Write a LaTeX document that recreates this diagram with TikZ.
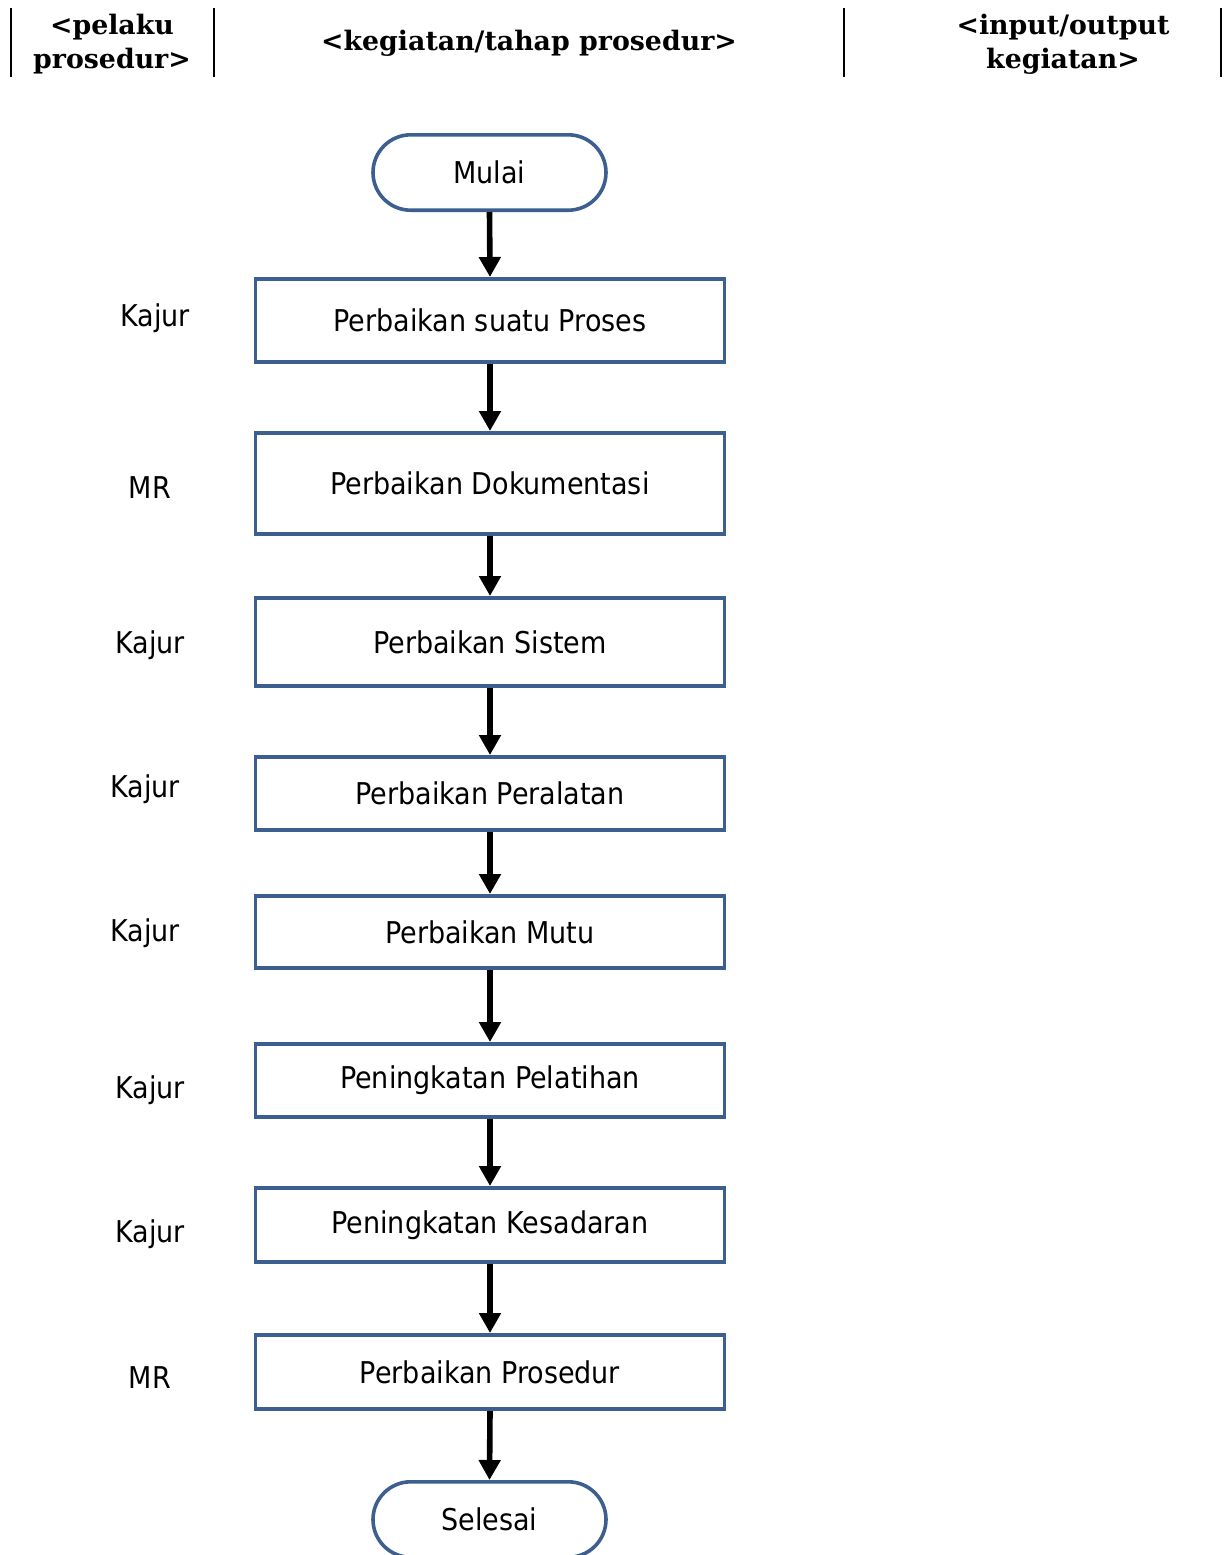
\documentclass[tikz,border=0pt]{standalone}
\usepackage{fontspec}
\setmainfont{DejaVu Sans Condensed}
\newfontfamily\headfont{DejaVu Serif}
\usetikzlibrary{arrows.meta,shapes.misc}
\definecolor{boxblue}{HTML}{3D5F8F}
\tikzset{
  procbox/.style={draw=boxblue, line width=1.8pt, fill=white, minimum width=234.5pt, font=\fontsize{15}{17}\selectfont, inner sep=0pt},
  termbox/.style={draw=boxblue, line width=1.8pt, fill=white, rounded rectangle, minimum width=116.5pt, minimum height=37.7pt, font=\fontsize{15}{17}\selectfont, inner sep=0pt},
  actor/.style={font=\fontsize{15}{17}\selectfont, inner sep=0pt},
  headtext/.style={font=\headfont\bfseries\fontsize{13.4}{17}\selectfont, align=center, inner sep=0pt},
  colline/.style={line width=1pt},
  flow/.style={line width=2.8pt, -{Triangle[length=10pt,width=10.5pt]}}
}
\begin{document}
\begin{tikzpicture}[x=0.5pt,y=-0.5pt]
  \useasboundingbox (0,0) rectangle (1225,1555);
  \clip (0,0) rectangle (1225,1555);
  % column header separators
  \foreach \xx in {11,214,844,1221}
    \draw[colline] (\xx,8) -- (\xx,77);
  \node[headtext] (h1) at (112,44) {<pelaku\\prosedur>};
  \node[headtext] (h2) at (529,43) {<kegiatan/tahap prosedur>};
  \node[headtext] (h3) at (1063,44) {<input/output\\kegiatan>};
  % flow
  \node[termbox] (start) at (489.5,172.5) {Mulai};
  \node[procbox, minimum height=41.7pt] (p1) at (490,320.5) {Perbaikan suatu Proses};
  \node[procbox, minimum height=50.7pt] (p2) at (490,483.5) {Perbaikan Dokumentasi};
  \node[procbox, minimum height=44.2pt] (p3) at (490,642) {Perbaikan Sistem};
  \node[procbox, minimum height=36.7pt] (p4) at (490,793.5) {Perbaikan Peralatan};
  \node[procbox, minimum height=36.2pt] (p5) at (490,932) {Perbaikan Mutu};
  \node[procbox, minimum height=36.7pt] (p6) at (490,1080.5) {Peningkatan Pelatihan};
  \node[procbox, minimum height=37.2pt] (p7) at (490,1225) {Peningkatan Kesadaran};
  \node[procbox, minimum height=37.2pt] (p8) at (490,1372) {Perbaikan Prosedur};
  \node[termbox] (stop) at (489.5,1519.5) {Selesai};
  \draw[flow] (start.south) -- (p1.north);
  \draw[flow] (p1.south) -- (p2.north);
  \draw[flow] (p2.south) -- (p3.north);
  \draw[flow] (p3.south) -- (p4.north);
  \draw[flow] (p4.south) -- (p5.north);
  \draw[flow] (p5.south) -- (p6.north);
  \draw[flow] (p6.south) -- (p7.north);
  \draw[flow] (p7.south) -- (p8.north);
  \draw[flow] (p8.south) -- (stop.north);
  % actors
  \node[actor] (a1) at (155,318) {Kajur};
  \node[actor] (a2) at (150,488) {MR};
  \node[actor] (a3) at (150,645) {Kajur};
  \node[actor] (a4) at (145,789) {Kajur};
  \node[actor] (a5) at (145,933) {Kajur};
  \node[actor] (a6) at (150,1090) {Kajur};
  \node[actor] (a7) at (150,1234) {Kajur};
  \node[actor] (a8) at (150,1378) {MR};
\end{tikzpicture}
\end{document}
